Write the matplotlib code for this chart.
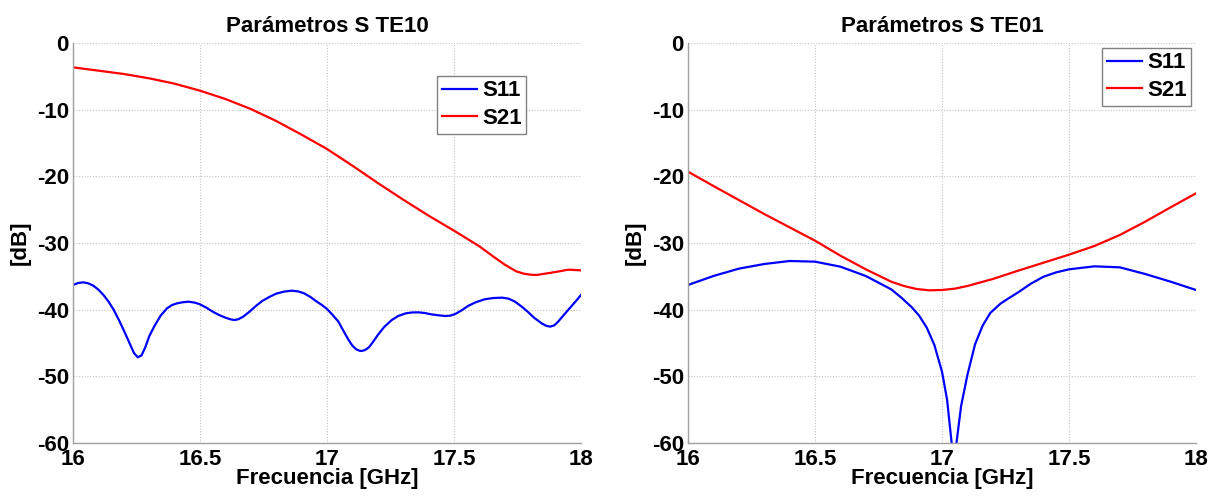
import matplotlib
matplotlib.use('Agg')
import matplotlib.pyplot as plt

# ---------------- data ----------------
xticks_vals = [16, 16.5, 17, 17.5, 18]
xtick_labels = ['16', '16.5', '17', '17.5', '18']
yticks_vals = [-60, -50, -40, -30, -20, -10, 0]
ytick_labels = ['-60', '-50', '-40', '-30', '-20', '-10', '0']

# TE10 - S11
f_te10_s11 = [16.00, 16.02, 16.04, 16.06, 16.08, 16.10, 16.12, 16.14, 16.16, 16.18, 16.20,
              16.22, 16.24, 16.255, 16.27, 16.285, 16.30, 16.32, 16.345, 16.37, 16.39,
              16.41, 16.43, 16.455, 16.48, 16.50, 16.525, 16.55, 16.575, 16.60, 16.62,
              16.635, 16.65, 16.67, 16.695, 16.72, 16.745, 16.775, 16.80, 16.83, 16.86,
              16.885, 16.91, 16.935, 16.96, 16.98, 17.00, 17.02, 17.045, 17.065, 17.085,
              17.10, 17.115, 17.127, 17.137, 17.15, 17.165, 17.18, 17.20, 17.225, 17.255,
              17.28, 17.31, 17.335, 17.36, 17.385, 17.41, 17.44, 17.465, 17.485, 17.505,
              17.53, 17.555, 17.585, 17.62, 17.655, 17.69, 17.715, 17.74, 17.765, 17.79,
              17.815, 17.845, 17.862, 17.878, 17.895, 17.91, 17.93, 17.955, 17.978, 18.00]
s11_te10 = [-36.3, -36.0, -35.9, -36.05, -36.4, -37.0, -37.8, -38.8, -40.0, -41.5, -43.1,
            -44.8, -46.5, -47.15, -46.85, -45.6, -44.0, -42.5, -40.9, -39.8, -39.3,
            -39.05, -38.9, -38.8, -38.95, -39.2, -39.7, -40.3, -40.8, -41.2, -41.45,
            -41.55, -41.45, -41.05, -40.3, -39.45, -38.7, -38.05, -37.6, -37.3, -37.15,
            -37.25, -37.55, -38.1, -38.8, -39.3, -39.9, -40.7, -41.8, -43.2, -44.55,
            -45.4, -45.95, -46.15, -46.2, -46.05, -45.65, -44.9, -43.8, -42.6, -41.55,
            -40.95, -40.55, -40.42, -40.4, -40.5, -40.7, -40.85, -40.95, -40.9, -40.65,
            -40.1, -39.45, -38.9, -38.45, -38.25, -38.2, -38.35, -38.8, -39.5, -40.3,
            -41.2, -42.05, -42.4, -42.55, -42.35, -41.8, -40.9, -39.8, -38.8, -37.8]

# TE10 - S21
f_te10_s21 = [16.0, 16.1, 16.2, 16.3, 16.4, 16.5, 16.6, 16.7, 16.8, 16.9, 17.0,
              17.1, 17.2, 17.3, 17.4, 17.5, 17.6, 17.65, 17.7, 17.745, 17.775,
              17.8, 17.826, 17.85, 17.9, 17.95, 18.0]
s21_te10 = [-3.65, -4.15, -4.65, -5.3, -6.1, -7.15, -8.4, -9.9, -11.7, -13.75, -15.9,
            -18.4, -21.0, -23.5, -25.9, -28.15, -30.5, -31.9, -33.25, -34.25, -34.6,
            -34.75, -34.8, -34.65, -34.35, -34.0, -34.1]

# TE01 - S11
f_te01_s11 = [16.0, 16.1, 16.2, 16.3, 16.4, 16.5, 16.6, 16.7, 16.8, 16.84, 16.88,
              16.91, 16.94, 16.97, 17.0, 17.02, 17.038, 17.048, 17.057, 17.075, 17.1,
              17.13, 17.16, 17.19, 17.23, 17.262, 17.3, 17.35, 17.4, 17.45, 17.5,
              17.6, 17.7, 17.8, 17.9, 18.0]
s11_te01 = [-36.3, -34.95, -33.85, -33.15, -32.7, -32.8, -33.55, -34.95, -36.95, -38.2, -39.6,
            -40.9, -42.7, -45.3, -49.3, -53.5, -60.0, -66.0, -60.0, -54.5, -49.8,
            -45.2, -42.4, -40.5, -39.1, -38.3, -37.4, -36.1, -35.05, -34.4, -33.95,
            -33.5, -33.65, -34.65, -35.8, -37.05]

# TE01 - S21
f_te01_s21 = [16.0, 16.1, 16.2, 16.3, 16.4, 16.5, 16.6, 16.7, 16.8, 16.85, 16.9, 16.95,
              17.0, 17.05, 17.1, 17.2, 17.3, 17.4, 17.5, 17.6, 17.7, 17.8, 17.9, 18.0]
s21_te01 = [-19.3, -21.45, -23.55, -25.65, -27.65, -29.65, -31.9, -33.95, -35.8, -36.45,
            -36.9, -37.1, -37.05, -36.85, -36.45, -35.4, -34.15, -32.95, -31.75, -30.45,
            -28.8, -26.8, -24.65, -22.55]

titles = ['Parámetros S TE10', 'Parámetros S TE01']
legend_labels = ['S11', 'S21']

# ---------------- style ----------------
plt.rcParams['font.family'] = ['Liberation Sans', 'DejaVu Sans']
plt.rcParams['font.weight'] = 'bold'
plt.rcParams['font.size'] = 16
plt.rcParams['axes.unicode_minus'] = False

W, H = 1222, 497
fig = plt.figure(figsize=(W / 100, H / 100), dpi=100)

ax_boxes = [(73, 43, 581, 443), (688, 43, 1196, 443)]
legend_anchor = [(0.8917, 0.9175), (0.990, 0.9875)]
series = [((f_te10_s11, s11_te10), (f_te10_s21, s21_te10)),
          ((f_te01_s11, s11_te01), (f_te01_s21, s21_te01))]

for i, (x0, y0, x1, y1) in enumerate(ax_boxes):
    ax = fig.add_axes([x0 / W, (H - y1) / H, (x1 - x0) / W, (y1 - y0) / H])
    (fa, sa), (fb, sb) = series[i]
    ax.plot(fa, sa, color='#0000ff', lw=1.6, label=legend_labels[0],
            solid_joinstyle='round')
    ax.plot(fb, sb, color='#ff0000', lw=1.6, label=legend_labels[1],
            solid_joinstyle='round')
    ax.set_xlim(16, 18)
    ax.set_ylim(-60, 0)
    ax.set_xticks(xticks_vals)
    ax.set_xticklabels(xtick_labels, fontweight='bold')
    ax.set_yticks(yticks_vals)
    ax.set_yticklabels(ytick_labels, fontweight='bold')
    ax.grid(True, linestyle=(0, (1, 1.5)), color='#c4c4c4', lw=0.8)
    for s in ['top', 'right']:
        ax.spines[s].set_visible(False)
    for s in ['left', 'bottom']:
        ax.spines[s].set_color('#a0a0a0')
        ax.spines[s].set_linewidth(1.0)
    ax.tick_params(axis='both', length=0)
    ax.tick_params(axis='x', pad=4)
    ax.tick_params(axis='y', pad=3)
    ax.set_title(titles[i], fontweight='bold', fontsize=16, pad=8)
    ax.set_xlabel('Frecuencia [GHz]', fontweight='bold', labelpad=-1)
    ax.set_ylabel('[dB]', fontweight='bold', labelpad=4)
    leg = ax.legend(loc='upper right', bbox_to_anchor=legend_anchor[i],
                    fancybox=False, edgecolor='#808080', framealpha=1,
                    handlelength=1.6, handletextpad=0.2, borderpad=0.2,
                    labelspacing=0.3, borderaxespad=0,
                    prop={'weight': 'bold', 'size': 16})
    leg.get_frame().set_linewidth(1.0)

fig.savefig('out.png', dpi=100)
